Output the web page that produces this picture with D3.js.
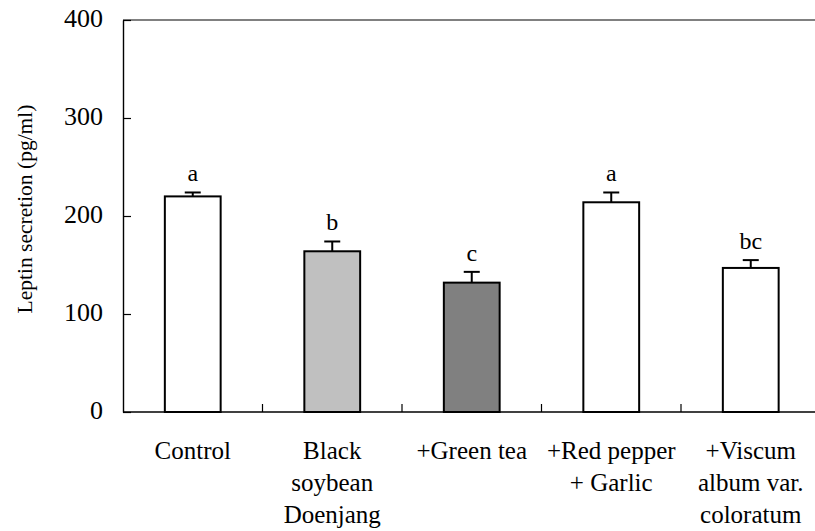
<!DOCTYPE html>
<html>
<head>
<meta charset="utf-8">
<script src="https://cdn.jsdelivr.net/npm/d3@7"></script>
<style>
  body { margin: 0; background: #fff; }
</style>
</head>
<body>
<div class="canvas"></div>
<script>
// data
const categories = ['Control', 'Black soybean Doenjang', '+Green tea', '+Red pepper + Garlic', '+Viscum album var. coloratum'];
const labelLines = [['Control'], ['Black', 'soybean', 'Doenjang'], ['+Green tea'], ['+Red pepper', '+ Garlic'], ['+Viscum', 'album var.', 'coloratum']];
const means = [220, 164, 132, 214, 147];
const errors = [4, 10, 11, 10, 8];
const letters = ['a', 'b', 'c', 'a', 'bc'];
const fills = ['#ffffff', '#c0c0c0', '#808080', '#ffffff', '#ffffff'];
const yTicks = [0, 100, 200, 300, 400];

const width = 815;
const height = 531;
const serif = '"Liberation Serif"';

const svg = d3.select('.canvas')
  .append('svg')
  .attr('width', width)
  .attr('height', height);

// plot area (right edge runs past the window like the original)
const plotLeft = 123, plotRight = 820.5, plotTop = 20, plotBottom = 412;

const y = d3.scaleLinear()
  .domain([0, 400])
  .range([plotBottom, plotTop]);

const x = d3.scaleBand()
  .domain(categories)
  .range([plotLeft, plotRight])
  .paddingInner(0.6)
  .paddingOuter(0.3);

// gray top border
svg.append('line')
  .attr('x1', plotLeft).attr('x2', plotRight)
  .attr('y1', y(400)).attr('y2', y(400))
  .attr('stroke', '#808080')
  .attr('stroke-width', 2);

// y axis, ticks pointing inward
const yAxis = d3.axisLeft(y)
  .tickValues(yTicks)
  .tickSizeInner(-8)
  .tickSizeOuter(0)
  .tickPadding(20);

const yAxisGroup = svg.append('g')
  .attr('transform', `translate(${plotLeft}, 0)`)
  .call(yAxis);

yAxisGroup.select('.domain').attr('stroke', '#000').attr('stroke-width', 1.4);
yAxisGroup.selectAll('line').attr('stroke', '#000').attr('stroke-width', 1.2);
yAxisGroup.selectAll('text')
  .style('font-family', serif)
  .style('font-size', '26px')
  .attr('fill', '#000')
  .attr('dy', '0.26em');

// y label
svg.append('text')
  .attr('transform', `translate(32, 209) rotate(-90)`)
  .attr('text-anchor', 'middle')
  .style('font-family', serif)
  .style('font-size', '21.5px')
  .text('Leptin secretion (pg/ml)');

// bars
svg.selectAll('rect.bar')
  .data(categories)
  .enter()
  .append('rect')
  .attr('class', 'bar')
  .attr('x', d => x(d))
  .attr('width', x.bandwidth())
  .attr('y', (d, i) => y(means[i]))
  .attr('height', (d, i) => y(0) - y(means[i]))
  .attr('fill', (d, i) => fills[i])
  .attr('stroke', '#000')
  .attr('stroke-width', 2);

// error bars
const err = svg.selectAll('g.err')
  .data(categories)
  .enter()
  .append('g')
  .attr('class', 'err')
  .attr('stroke', '#000')
  .attr('stroke-width', 2);

err.append('line')
  .attr('x1', d => x(d) + x.bandwidth() / 2)
  .attr('x2', d => x(d) + x.bandwidth() / 2)
  .attr('y1', (d, i) => y(means[i]))
  .attr('y2', (d, i) => y(means[i] + errors[i]));

err.append('line')
  .attr('x1', d => x(d) + x.bandwidth() / 2 - 8)
  .attr('x2', d => x(d) + x.bandwidth() / 2 + 8)
  .attr('y1', (d, i) => y(means[i] + errors[i]))
  .attr('y2', (d, i) => y(means[i] + errors[i]));

// significance letters
svg.selectAll('text.sig')
  .data(categories)
  .enter()
  .append('text')
  .attr('class', 'sig')
  .attr('x', d => x(d) + x.bandwidth() / 2)
  .attr('y', (d, i) => y(means[i] + errors[i]) - 11)
  .attr('text-anchor', 'middle')
  .style('font-family', serif)
  .style('font-size', '24px')
  .text((d, i) => letters[i]);

// x axis line + category boundary ticks
svg.append('line')
  .attr('x1', plotLeft).attr('x2', plotRight)
  .attr('y1', plotBottom).attr('y2', plotBottom)
  .attr('stroke', '#000')
  .attr('stroke-width', 1.4);

const bounds = d3.range(1, categories.length).map(i => plotLeft + i * x.step());
svg.selectAll('line.xtick')
  .data(bounds)
  .enter()
  .append('line')
  .attr('class', 'xtick')
  .attr('x1', d => d).attr('x2', d => d)
  .attr('y1', plotBottom).attr('y2', plotBottom - 8)
  .attr('stroke', '#000')
  .attr('stroke-width', 1.2);

// x labels
const xl = svg.selectAll('text.xlab')
  .data(categories)
  .enter()
  .append('text')
  .attr('class', 'xlab')
  .attr('text-anchor', 'middle')
  .style('font-family', serif)
  .style('font-size', '25px')
  .attr('x', d => x(d) + x.bandwidth() / 2)
  .attr('y', plotBottom + 47);

xl.selectAll('tspan')
  .data((d, i) => labelLines[i])
  .enter()
  .append('tspan')
  .attr('x', function () { return this.parentNode.getAttribute('x'); })
  .attr('dy', (d, i) => i === 0 ? 0 : 32)
  .text(d => d);
</script>
</body>
</html>
